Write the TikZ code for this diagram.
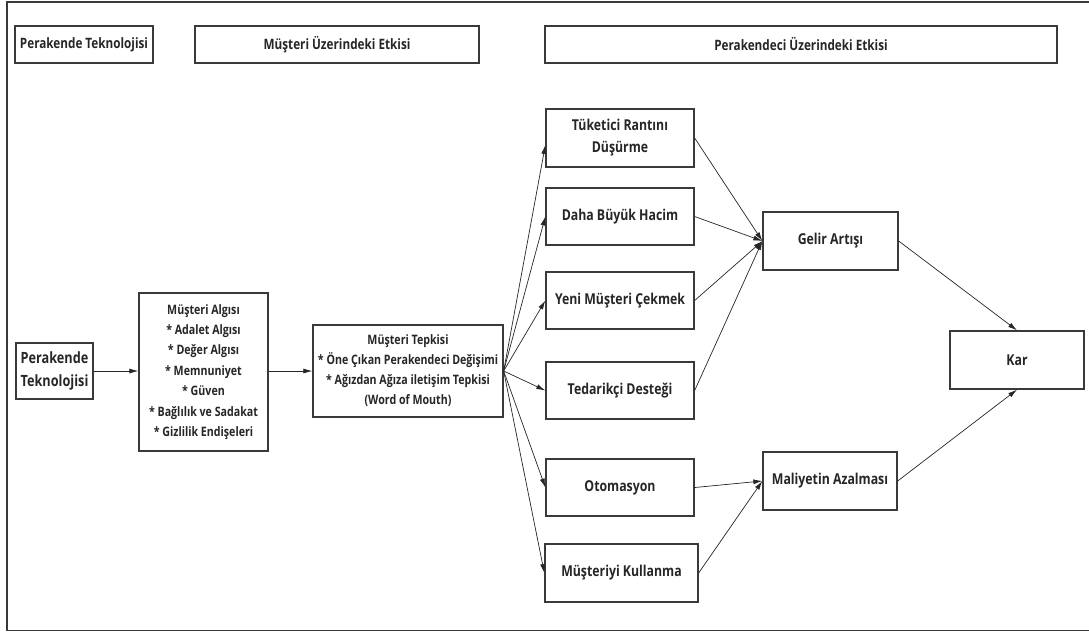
\documentclass[tikz,border=0pt]{standalone}
\usepackage{fontspec}
\setmainfont{Open Sans}[FakeStretch=0.82]
\usetikzlibrary{arrows.meta}
\definecolor{ink}{HTML}{262626}
\definecolor{edge}{HTML}{3A3A3A}
\begin{document}
\begin{tikzpicture}[x=1pt,y=-1pt,
  box/.style={draw=edge,line width=1.3pt,inner sep=0pt,align=center,text=ink,font=\bfseries\fontsize{14}{20}\selectfont},
  hdr/.style={box,minimum height=37pt,font=\bfseries\fontsize{14.3}{18}\selectfont},
  rbox/.style={box,minimum width=148pt,minimum height=57pt,font=\bfseries\fontsize{15}{22}\selectfont},
  arr/.style={-{Latex[length=9pt,width=5pt]},line width=0.7pt,draw=ink}]
\useasboundingbox (0,0) rectangle (1089,633);
\draw[draw=edge,line width=1.4pt] (1090,2) -- (7,2) -- (7,630.5) -- (1090,630.5);
% headers
\node[hdr,minimum width=138pt] (h1) at (84,44.5) {Perakende Teknolojisi};
\node[hdr,minimum width=284pt] (h2) at (337,44.5) {Müşteri Üzerindeki Etkisi};
\node[hdr,minimum width=512pt] (h3) at (801,44.5) {Perakendeci Üzerindeki Etkisi};
% left
\node[box,minimum width=77pt,minimum height=56pt,font=\bfseries\fontsize{15.5}{23}\selectfont] (pt) at (54.5,371) {Perakende\\Teknolojisi};
\node[box,minimum width=129pt,minimum height=158pt,font=\bfseries\fontsize{13}{20.4}\selectfont] (ma) at (203.5,372) {Müşteri Algısı\\* Adalet Algısı\\* Değer Algısı\\* Memnuniyet\\* Güven\\* Bağlılık ve Sadakat\\* Gizlilik Endişeleri};
\node[box,minimum width=190pt,minimum height=92pt,font=\bfseries\fontsize{13}{20}\selectfont] (mt) at (408,371) {Müşteri Tepkisi\\* Öne Çıkan Perakendeci Değişimi\\* Ağızdan Ağıza iletişim Tepkisi\\(Word of Mouth)};
% right column
\node[rbox,minimum height=58pt] (r1) at (620,138) {Tüketici Rantını\\Düşürme};
\node[rbox] (r2) at (620,216.5) {Daha Büyük Hacim};
\node[rbox] (r3) at (620,300.5) {Yeni Müşteri Çekmek};
\node[rbox] (r4) at (620,390.5) {Tedarikçi Desteği};
\node[rbox] (r5) at (620,487.5) {Otomasyon};
\node[rbox,minimum width=153pt,minimum height=58pt] (r6) at (621.5,573) {Müşteriyi Kullanma};
\node[rbox,minimum width=135pt,minimum height=58pt] (ga) at (830.5,241) {Gelir Artışı};
\node[rbox,minimum width=134pt,minimum height=58pt] (mz) at (830,481) {Maliyetin Azalması};
\node[rbox,minimum width=134pt,minimum height=58pt] (kar) at (1017,360) {Kar};
% arrows
\draw[arr] (pt.east) -- (ma.west |- pt.east);
\draw[arr] (ma.east |- mt.west) -- (mt.west);
\draw[arr] (mt.east) -- ([yshift=-7pt]r1.west);
\draw[arr] (mt.east) -- (r2.west);
\draw[arr] (mt.east) -- (r3.west);
\draw[arr] (mt.east) -- (r4.west);
\draw[arr] (mt.east) -- (r5.west);
\draw[arr] (mt.east) -- (r6.west);
\draw[arr] (r1.east) -- (ga.west);
\draw[arr] (r2.east) -- (ga.west);
\draw[arr] (r3.east) -- (ga.west);
\draw[arr] (r4.east) -- (ga.west);
\draw[arr] (r5.east) -- (mz.west);
\draw[arr] (r6.east) -- (mz.west);
\draw[arr] (ga.east) -- (kar.north);
\draw[arr] (mz.east) -- (kar.south);
\end{tikzpicture}
\end{document}
